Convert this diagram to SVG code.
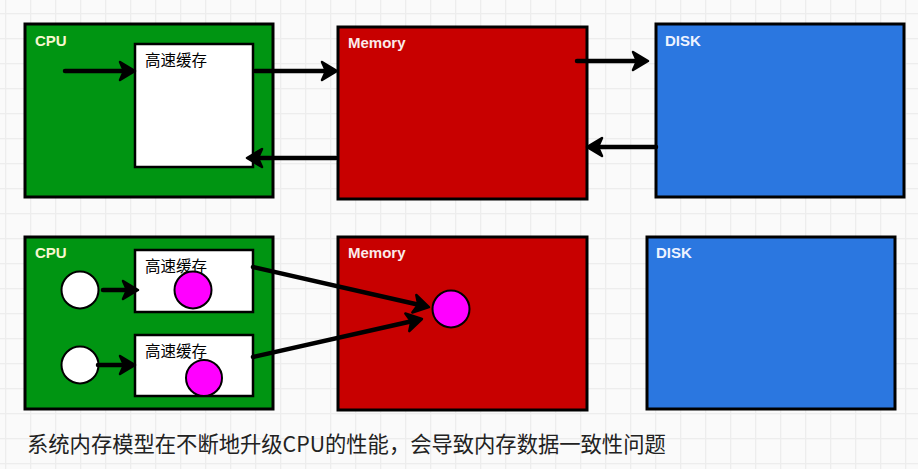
<svg xmlns="http://www.w3.org/2000/svg" width="918" height="469" viewBox="0 0 918 469">
  <defs>
    <pattern id="grid" x="5" y="13" width="25" height="25" patternUnits="userSpaceOnUse">
      <rect x="0" y="0" width="25" height="25" fill="#fafafa"/>
      <rect x="0" y="0" width="1.3" height="25" fill="#ededed"/>
      <rect x="0" y="0" width="25" height="1.3" fill="#ededed"/>
    </pattern>
    <marker id="head" viewBox="-3 -12 22 24" refX="9" refY="0" markerWidth="22" markerHeight="24" markerUnits="userSpaceOnUse" orient="auto">
      <path d="M0,-9 L15,0 L0,9 L4,0 Z" fill="#000" stroke="#000" stroke-width="2.5" stroke-linejoin="round"/>
    </marker>
    <style>
      .box { stroke: #000; stroke-width: 3; }
      .cpu { fill: #009512; }
      .mem { fill: #c80000; }
      .disk { fill: #2b77e0; }
      .cache { fill: #fff; stroke: #000; stroke-width: 2.5; }
      .lbl { font-family: "Liberation Sans", Arial, sans-serif; font-size: 15px; font-weight: bold; }
      .cpulbl { fill: #f7f7cf; }
      .wlbl { fill: #fbeaea; }
      .disklbl { fill: #eef3ff; }
      .cn { font-family: "Noto Sans CJK SC", "Noto Sans", sans-serif; font-size: 15.5px; fill: #000; }
      .dot { fill: #ff00ff; stroke: #000; stroke-width: 2; }
      .wdot { fill: #fff; stroke: #000; stroke-width: 2; }
      .arrow { fill: none; stroke: #000; stroke-width: 4.5; stroke-linecap: round; marker-end: url(#head); }
      .caption { font-family: "Noto Sans CJK SC", "Noto Sans", sans-serif; font-size: 21.3px; fill: #222; }
    </style>
  </defs>

  <rect x="0" y="0" width="918" height="469" fill="url(#grid)"/>

  <!-- Top row -->
  <g id="cpu-top">
    <rect class="box cpu" x="25" y="24" width="248" height="173"/>
    <text class="lbl cpulbl" x="35" y="46">CPU</text>
  </g>
  <g id="cache-top">
    <rect class="cache" x="135" y="44" width="118" height="123"/>
    <text class="cn" x="145" y="66">高速缓存</text>
  </g>
  <g id="memory-top">
    <rect class="box mem" x="338" y="27" width="249" height="172"/>
    <text class="lbl wlbl" x="348" y="48">Memory</text>
  </g>
  <g id="disk-top">
    <rect class="box disk" x="656" y="24" width="248" height="173"/>
    <text class="lbl disklbl" x="665" y="46">DISK</text>
  </g>

  <!-- Bottom row -->
  <g id="cpu-bottom">
    <rect class="box cpu" x="25" y="237" width="248" height="172"/>
    <text class="lbl cpulbl" x="35" y="258">CPU</text>
  </g>
  <g id="cache-bottom-1">
    <rect class="cache" x="135" y="250" width="118" height="62"/>
    <text class="cn" x="145" y="272">高速缓存</text>
    <circle class="dot" cx="193" cy="290" r="18.5"/>
  </g>
  <g id="cache-bottom-2">
    <rect class="cache" x="135" y="335" width="118" height="61"/>
    <text class="cn" x="145" y="357">高速缓存</text>
    <circle class="dot" cx="204" cy="378" r="18"/>
  </g>
  <g id="core-1">
    <circle class="wdot" cx="80" cy="290" r="18.5"/>
  </g>
  <g id="core-2">
    <circle class="wdot" cx="80" cy="365" r="18.5"/>
  </g>
  <g id="memory-bottom">
    <rect class="box mem" x="338" y="237" width="249" height="173"/>
    <text class="lbl wlbl" x="348" y="258">Memory</text>
    <circle class="dot" cx="451" cy="309" r="18.5"/>
  </g>
  <g id="disk-bottom">
    <rect class="box disk" x="647" y="237" width="248" height="172"/>
    <text class="lbl disklbl" x="656" y="258">DISK</text>
  </g>

  <!-- Connectors -->
  <g id="connectors">
    <path class="arrow" d="M65,71 L129,71"/>
    <path class="arrow" d="M255,71 L331,71"/>
    <path class="arrow" d="M336,158 L253,158"/>
    <path class="arrow" d="M577,61 L642,61"/>
    <path class="arrow" d="M656,147 L593,147"/>
    <path class="arrow" d="M103,290 L132,290"/>
    <path class="arrow" d="M98,365 L129,365"/>
    <path class="arrow" d="M253,267 L423.1,305.7"/>
    <path class="arrow" d="M253,357 L416.1,320.3"/>
  </g>

  <text class="caption" x="27" y="452">系统内存模型在不断地升级CPU的性能，会导致内存数据一致性问题</text>
</svg>
